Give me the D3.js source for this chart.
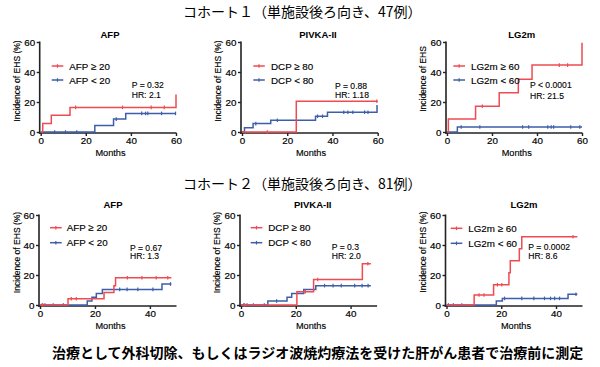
<!DOCTYPE html>
<html><head><meta charset="utf-8">
<script src="https://cdn.jsdelivr.net/npm/d3@7"></script>
<style>
html,body{margin:0;padding:0;background:#fff;}
svg{display:block;}
</style></head>
<body>
<svg id="chart" width="600" height="367"></svg>
<script>
// ---------------- DATA ----------------
const headerTexts = ["コホート１（単施設後ろ向き、47例）", "コホート２（単施設後ろ向き、81例）"];
const footerText = "治療として外科切除、もしくはラジオ波焼灼療法を受けた肝がん患者で治療前に測定";
const panelTitles = ["AFP", "PIVKA-II", "LG2m", "AFP", "PIVKA-II", "LG2m"];
const yAxisTitles = ["Incidence of EHS (%)", "Incidence of EHS (%)", "Incidence of EHS",
                     "Incidence of EHS (%)", "Incidence of EHS (%)", "Incidence of EHS (%)"];
const xAxisTitle = "Months";
const yTicks = [0, 20, 40, 60];
const xTicksCohort1 = [0, 20, 40, 60];
const xTicksCohort2 = [0, 20, 40];
const xMaxCohort1 = 60;
const xMaxCohort2 = 49.5;
const legendHi = ["AFP ≥ 20", "DCP ≥ 80", "LG2m ≥ 60", "AFP ≥ 20", "DCP ≥ 80", "LG2m ≥ 60"];
const legendLo = ["AFP < 20", "DCP < 80", "LG2m < 60", "AFP < 20", "DCP < 80", "LG2m < 60"];
const pTexts = ["P = 0.32", "P = 0.88", "P < 0.0001", "P = 0.67", "P = 0.3", "P = 0.0002"];
const hrTexts = ["HR: 2.1", "HR: 1.18", "HR: 21.5", "HR: 1.3", "HR: 2.0", "HR: 8.6"];

// Cohort 1 – AFP
const c1AfpHiEvents = [0.9, 4.7, 13, 60];
const c1AfpHiValues = [5.6, 11.1, 16.4, 25];
const c1AfpHiCensor = [15.5, 36.3, 49, 54.8];
const c1AfpLoEvents = [24, 32.3, 37.7];
const c1AfpLoValues = [4.3, 8.6, 12.4];
const c1AfpLoCensor = [6.2, 11, 16, 33.5, 44.8, 46.5, 47.5, 53.6, 59.8];
// Cohort 1 – PIVKA-II
const c1DcpHiEvents = [24];
const c1DcpHiValues = [20.5];
const c1DcpHiCensor = [11.2, 59.6];
const c1DcpLoEvents = [1.1, 4.9, 12.7, 32.5, 37.8, 59.7];
const c1DcpLoValues = [2.9, 5.6, 7.8, 10.5, 13.2, 17.5];
const c1DcpLoCensor = [6.1, 15.6, 33.4, 35.6, 45, 46.8, 49, 54.2, 55.7];
// Cohort 1 – LG2m
const c1LgHiEvents = [0.6, 12.7, 23.2, 31.7, 37.8, 60];
const c1LgHiValues = [8.7, 17.2, 26.1, 35.2, 44.6, 59.5];
const c1LgHiCensor = [15.7, 49.9, 53.6];
const c1LgLoEvents = [4.6];
const c1LgLoValues = [3.3];
const c1LgLoCensor = [6.3, 14.6, 33.6, 36.3, 44.8, 46.3, 47.4, 55, 59];
// Cohort 2 – AFP
const c2AfpHiEvents = [10.2, 23.3, 26.9, 27.5];
const c2AfpHiValues = [4.2, 8.4, 12.9, 18.2];
const c2AfpHiCensor = [1, 11.4, 13.2, 31.8, 37.1, 42.3, 46.5];
const c2AfpLoEvents = [17.2, 18.9, 20.5, 22.7, 44.4];
const c2AfpLoValues = [2.7, 5.1, 7.6, 10.4, 14];
const c2AfpLoCensor = [0.8, 1.8, 4.8, 8.5, 29, 31.7, 35.6, 41.1, 47.5];
const c2AfpEnd = 47.8;
// Cohort 2 – PIVKA-II
const c2DcpHiEvents = [20.4, 26.5, 44.3];
const c2DcpHiValues = [8.9, 17, 27.5];
const c2DcpHiCensor = [1.3, 23.5, 28, 46.3];
const c2DcpLoEvents = [9.8, 16.8, 18.5, 22.9, 27.3];
const c2DcpLoValues = [2.7, 5.1, 7.6, 10.4, 12.9];
const c2DcpLoCensor = [1, 2.2, 4.5, 8.5, 13, 30.5, 33.6, 36.6, 41.5, 44.2, 46.4];
const c2DcpEnd = 47.4;
// Cohort 2 – LG2m
const c2LgHiEvents = [10.1, 17.2, 22.8, 23.3, 26.6, 27.5];
const c2LgHiValues = [6.7, 13.5, 21.5, 29.5, 37.5, 45.5];
const c2LgHiCensor = [11.9, 13.7, 18.6, 20.2, 46.2];
const c2LgLoEvents = [18.2, 20.4, 44.4];
const c2LgLoValues = [2.7, 4.4, 7.2];
const c2LgLoCensor = [0.7, 2.5, 5.6, 21.2, 27.5, 31.9, 35.8, 38, 39.5, 41.3, 47.3];
const c2LgEnd = 47.8;

// ---------------- LAYOUT ----------------
const RED = "#ee4b52", BLUE = "#3d5ea8", AXIS = "#222";
const FONT = "'Liberation Sans', Arial, Helvetica, sans-serif";
const CJK = "'Noto Sans CJK JP', 'Noto Sans CJK SC', sans-serif";

const layout = [
  {x0: 40.7, x1: 176,   yb: 132, yt: 42,  titleX: 110,   titleY: 37.5, yLabX: 16.7,  yLabY: 81,
   legX0: 51.7, legX1: 63.3, legTx: 69.3, legY: [66, 80], statX: 131.7, statY: [88.3, 97.5], monthsX: 110.5},
  {x0: 242,  x1: 377.7, yb: 132, yt: 42,  titleX: 318,   titleY: 37.5, yLabX: 218.3, yLabY: 81,
   legX0: 253.3, legX1: 264.8, legTx: 271, legY: [66, 80], statX: 335, statY: [88.5, 98], monthsX: 311},
  {x0: 447,  x1: 582,   yb: 132, yt: 42,  titleX: 521.7, titleY: 37.5, yLabX: 423.3, yLabY: 79,
   legX0: 453.3, legX1: 465, legTx: 471, legY: [66, 80], statX: 530, statY: [88.3, 98.5], monthsX: 516.7},
  {x0: 40,   x1: 176,   yb: 305, yt: 215, titleX: 113,   titleY: 208, yLabX: 16.7,  yLabY: 252.5,
   legX0: 50, legX1: 61.7, legTx: 66.7, legY: [227.7, 242.7], statX: 130, statY: [250.5, 259], monthsX: 110.5},
  {x0: 241,  x1: 376.6, yb: 305, yt: 215, titleX: 312.7, titleY: 208, yLabX: 217.3, yLabY: 252.5,
   legX0: 250.7, legX1: 262.3, legTx: 268.3, legY: [227.7, 242.7], statX: 331.7, statY: [250, 259], monthsX: 311},
  {x0: 446.5, x1: 582,  yb: 305, yt: 215, titleX: 524,   titleY: 208, yLabX: 423.3, yLabY: 252,
   legX0: 450.7, legX1: 462.3, legTx: 468.3, legY: [228.3, 243.3], statX: 528.3, statY: [250, 259], monthsX: 516}
];

const panelSeries = [
  {xMax: xMaxCohort1, xTicks: xTicksCohort1,
   hi: {ev: c1AfpHiEvents, val: c1AfpHiValues, cen: c1AfpHiCensor, end: 60},
   lo: {ev: c1AfpLoEvents, val: c1AfpLoValues, cen: c1AfpLoCensor, end: 60}},
  {xMax: xMaxCohort1, xTicks: xTicksCohort1,
   hi: {ev: c1DcpHiEvents, val: c1DcpHiValues, cen: c1DcpHiCensor, end: 60},
   lo: {ev: c1DcpLoEvents, val: c1DcpLoValues, cen: c1DcpLoCensor, end: 60}},
  {xMax: xMaxCohort1, xTicks: xTicksCohort1,
   hi: {ev: c1LgHiEvents, val: c1LgHiValues, cen: c1LgHiCensor, end: 60},
   lo: {ev: c1LgLoEvents, val: c1LgLoValues, cen: c1LgLoCensor, end: 60}},
  {xMax: xMaxCohort2, xTicks: xTicksCohort2,
   hi: {ev: c2AfpHiEvents, val: c2AfpHiValues, cen: c2AfpHiCensor, end: c2AfpEnd},
   lo: {ev: c2AfpLoEvents, val: c2AfpLoValues, cen: c2AfpLoCensor, end: c2AfpEnd}},
  {xMax: xMaxCohort2, xTicks: xTicksCohort2,
   hi: {ev: c2DcpHiEvents, val: c2DcpHiValues, cen: c2DcpHiCensor, end: c2DcpEnd},
   lo: {ev: c2DcpLoEvents, val: c2DcpLoValues, cen: c2DcpLoCensor, end: c2DcpEnd}},
  {xMax: xMaxCohort2, xTicks: xTicksCohort2,
   hi: {ev: c2LgHiEvents, val: c2LgHiValues, cen: c2LgHiCensor, end: c2LgEnd},
   lo: {ev: c2LgLoEvents, val: c2LgLoValues, cen: c2LgLoCensor, end: c2LgEnd}}
];

// ---------------- DRAW ----------------
const svg = d3.select("#chart");

svg.selectAll("text.header").data(headerTexts).enter().append("text")
  .attr("class", "header")
  .attr("x", 183).attr("y", (d, i) => i === 0 ? 16.5 : 188.5)
  .attr("font-family", CJK).attr("font-size", 14).attr("fill", "#000")
  .text(d => d);

svg.append("text").attr("x", 52).attr("y", 357.5)
  .attr("font-family", CJK).attr("font-size", 14).attr("font-weight", "bold").attr("fill", "#000")
  .text(footerText);

function valueAt(s, t) {
  let v = 0;
  s.ev.forEach((e, i) => { if (e <= t) v = s.val[i]; });
  return v;
}

panelSeries.forEach((p, i) => {
  const L = layout[i];
  const x = d3.scaleLinear().domain([0, p.xMax]).range([L.x0, L.x1]);
  const y = d3.scaleLinear().domain([0, 60]).range([L.yb, L.yt]);
  const g = svg.append("g");

  // axes
  const xAxis = d3.axisBottom(x).tickValues(p.xTicks).tickSize(3).tickPadding(1).tickFormat(d3.format("d"));
  const yAxis = d3.axisLeft(y).tickValues(yTicks).tickSize(3).tickPadding(1.5).tickFormat(d3.format("d"));
  const gx = g.append("g").attr("transform", `translate(0,${L.yb + 1})`).call(xAxis);
  const gy = g.append("g").attr("transform", `translate(${L.x0 - 1},0)`).call(yAxis);
  [gx, gy].forEach(a => {
    a.select(".domain").attr("stroke", AXIS).attr("stroke-width", 1.6);
    a.selectAll(".tick line").attr("stroke", AXIS).attr("stroke-width", 1.4);
    a.selectAll(".tick text").attr("font-family", FONT).attr("font-size", 9.8).attr("fill", "#000")
      .attr("stroke", "#000").attr("stroke-width", 0.2);
  });
  gx.select(".domain").attr("d", `M${L.x0 - 1.8},0H${L.x1 + 0.5}`);
  gy.select(".domain").attr("d", `M0,${L.yb + 1.8}V${L.yt - 0.5}`);

  // title
  g.append("text").attr("x", L.titleX).attr("y", L.titleY).attr("text-anchor", "middle")
    .attr("font-family", FONT).attr("font-size", 9.5).attr("font-weight", "bold").attr("fill", "#000")
    .text(panelTitles[i]);
  // y title
  g.append("text").attr("transform", `translate(${L.yLabX + 3},${L.yLabY}) rotate(-90)`)
    .attr("text-anchor", "middle").attr("font-family", FONT).attr("font-size", 8.5).attr("fill", "#000")
    .attr("stroke", "#000").attr("stroke-width", 0.15)
    .text(yAxisTitles[i]);
  // x title
  g.append("text").attr("x", L.monthsX).attr("y", L.yb + 23.5).attr("text-anchor", "middle")
    .attr("font-family", FONT).attr("font-size", 9.2).attr("fill", "#000")
    .attr("stroke", "#000").attr("stroke-width", 0.15)
    .text(xAxisTitle);

  // curves
  const line = d3.line().x(d => x(d[0])).y(d => y(d[1])).curve(d3.curveStepAfter);
  [[p.lo, BLUE], [p.hi, RED]].forEach(([s, col]) => {
    const pts = [[0, 0]];
    s.ev.forEach((t, k) => pts.push([t, s.val[k]]));
    pts.push([s.end, s.val[s.val.length - 1]]);
    g.append("path").attr("d", line(pts)).attr("fill", "none")
      .attr("stroke", col).attr("stroke-width", 1.5);
    g.selectAll(null).data(s.cen).enter().append("line")
      .attr("x1", t => x(t)).attr("x2", t => x(t))
      .attr("y1", t => y(valueAt(s, t)) - 1.8).attr("y2", t => y(valueAt(s, t)) + 1.8)
      .attr("stroke", col).attr("stroke-width", 1.2);
  });

  // legend
  [[legendHi[i], RED], [legendLo[i], BLUE]].forEach(([lab, col], k) => {
    const ly = L.legY[k];
    g.append("line").attr("x1", L.legX0).attr("x2", L.legX1).attr("y1", ly).attr("y2", ly)
      .attr("stroke", col).attr("stroke-width", 1.5);
    const mx = (L.legX0 + L.legX1) / 2;
    g.append("line").attr("x1", mx).attr("x2", mx).attr("y1", ly - 1.8).attr("y2", ly + 1.8)
      .attr("stroke", col).attr("stroke-width", 1.2);
    g.append("text").attr("x", L.legTx).attr("y", ly + 3.5)
      .attr("font-family", FONT).attr("font-size", 9.8).attr("fill", "#000")
      .attr("stroke", "#000").attr("stroke-width", 0.15).text(lab);
  });

  // stats
  [pTexts[i], hrTexts[i]].forEach((t, k) => {
    g.append("text").attr("x", L.statX).attr("y", L.statY[k])
      .attr("font-family", FONT).attr("font-size", 8.6).attr("fill", "#000")
      .attr("stroke", "#000").attr("stroke-width", 0.12).text(t);
  });
});
</script>
</body></html>
